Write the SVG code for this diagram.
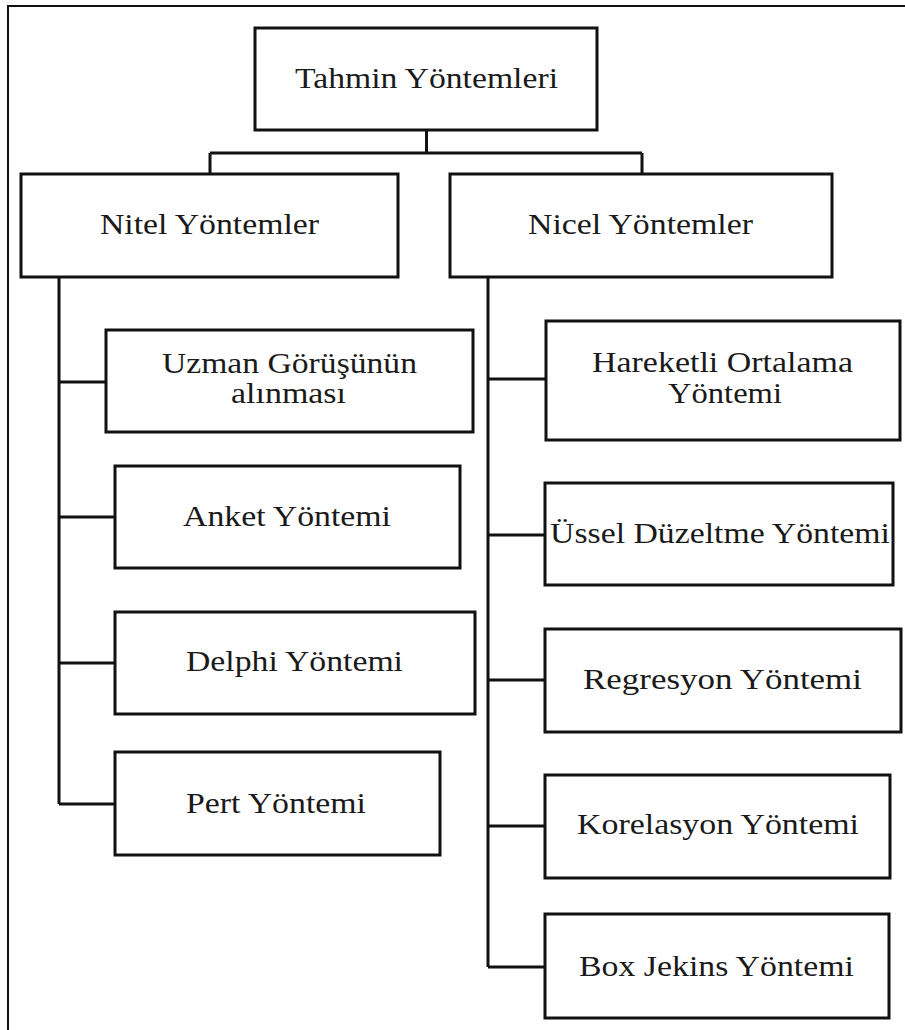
<svg xmlns="http://www.w3.org/2000/svg" width="905" height="1030" viewBox="0 0 905 1030">
  <style>
    .box { fill: #ffffff; stroke: #111111; stroke-width: 3; }
    .lbl { font-family: "Liberation Serif", "Times New Roman", serif; font-size: 29px; fill: #1a1a1a; text-anchor: middle; }
    .wire { fill: none; stroke: #111111; stroke-width: 3; }
  </style>
  <rect width="905" height="1030" fill="#ffffff"/>
  <!-- outer frame -->
  <path d="M8 1030 V6 H905" fill="none" stroke="#111111" stroke-width="2"/>

  <g id="connectors" class="wire">
    <path d="M426.5 130 V153 M210 153 H642 M210 153 V174 M642 153 V174"/>
    <path d="M59 277 V804 M59 382 H106 M59 517 H115 M59 663 H115 M59 804 H115"/>
    <path d="M488 277 V967 M488 379 H545 M488 535 H545 M488 680 H545 M488 826 H545 M488 967 H545"/>
  </g>

  <g id="tahmin">
    <rect class="box" x="255" y="28" width="342" height="102"/>
    <text class="lbl" x="426.5" y="88" textLength="263" lengthAdjust="spacingAndGlyphs">Tahmin Yöntemleri</text>
  </g>
  <g id="nitel">
    <rect class="box" x="21" y="174" width="377" height="103"/>
    <text class="lbl" x="209.5" y="234" textLength="219" lengthAdjust="spacingAndGlyphs">Nitel Yöntemler</text>
  </g>
  <g id="nicel">
    <rect class="box" x="450" y="174" width="382" height="103"/>
    <text class="lbl" x="640.5" y="234" textLength="225" lengthAdjust="spacingAndGlyphs">Nicel Yöntemler</text>
  </g>

  <g id="uzman">
    <rect class="box" x="106" y="330" width="367" height="102"/>
    <text class="lbl" x="289.5" y="373" textLength="255" lengthAdjust="spacingAndGlyphs">Uzman Görüşünün</text>
    <text class="lbl" x="288.5" y="403" textLength="115" lengthAdjust="spacingAndGlyphs">alınması</text>
  </g>
  <g id="anket">
    <rect class="box" x="115" y="466" width="345" height="102"/>
    <text class="lbl" x="287" y="526" textLength="208" lengthAdjust="spacingAndGlyphs">Anket Yöntemi</text>
  </g>
  <g id="delphi">
    <rect class="box" x="115" y="612" width="360" height="102"/>
    <text class="lbl" x="294.5" y="671" textLength="217" lengthAdjust="spacingAndGlyphs">Delphi Yöntemi</text>
  </g>
  <g id="pert">
    <rect class="box" x="115" y="752" width="325" height="103"/>
    <text class="lbl" x="276" y="813" textLength="180" lengthAdjust="spacingAndGlyphs">Pert Yöntemi</text>
  </g>

  <g id="hareketli">
    <rect class="box" x="546" y="321" width="354" height="119"/>
    <text class="lbl" x="722.5" y="372" textLength="261" lengthAdjust="spacingAndGlyphs">Hareketli Ortalama</text>
    <text class="lbl" x="725" y="403" textLength="114" lengthAdjust="spacingAndGlyphs">Yöntemi</text>
  </g>
  <g id="ussel">
    <rect class="box" x="545" y="483" width="348" height="102"/>
    <text class="lbl" x="720" y="543" textLength="340" lengthAdjust="spacingAndGlyphs">Üssel Düzeltme Yöntemi</text>
  </g>
  <g id="regresyon">
    <rect class="box" x="545" y="629" width="356" height="103"/>
    <text class="lbl" x="722.5" y="689" textLength="279" lengthAdjust="spacingAndGlyphs">Regresyon Yöntemi</text>
  </g>
  <g id="korelasyon">
    <rect class="box" x="545" y="775" width="345" height="103"/>
    <text class="lbl" x="718" y="834" textLength="282" lengthAdjust="spacingAndGlyphs">Korelasyon Yöntemi</text>
  </g>
  <g id="boxjekins">
    <rect class="box" x="545" y="914" width="344" height="104"/>
    <text class="lbl" x="716.5" y="976" textLength="275" lengthAdjust="spacingAndGlyphs">Box Jekins Yöntemi</text>
  </g>
</svg>
